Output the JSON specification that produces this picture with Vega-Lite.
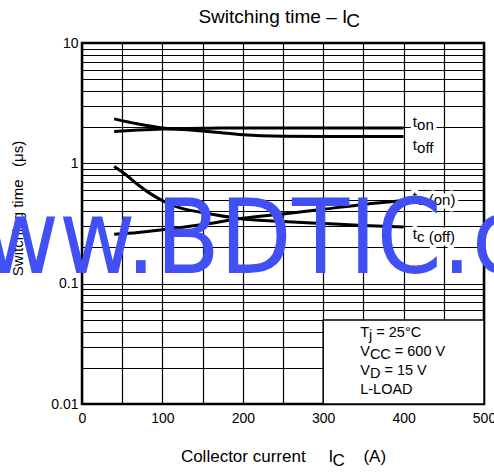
{
  "$schema": "https://vega.github.io/schema/vega-lite/v6.json",
  "width": 402,
  "height": 361,
  "autosize": {"type": "none"},
  "padding": {"left": 82, "top": 43, "right": 10, "bottom": 68},
  "config": {
    "view": {"stroke": "#000", "strokeWidth": 2.5},
    "font": "Liberation Sans",
    "text": {"font": "Liberation Sans", "color": "#000"},
    "axis": {"labelFont": "Liberation Sans", "labelColor": "#000", "titleFont": "Liberation Sans", "titleColor": "#000"}
  },
  "datasets": {
    "curves": [
      {"series": "ton", "ic": 40, "t": 1.84},
      {"series": "ton", "ic": 70, "t": 1.89},
      {"series": "ton", "ic": 100, "t": 1.93},
      {"series": "ton", "ic": 130, "t": 1.95},
      {"series": "ton", "ic": 160, "t": 1.96},
      {"series": "ton", "ic": 200, "t": 1.97},
      {"series": "ton", "ic": 250, "t": 1.97},
      {"series": "ton", "ic": 300, "t": 1.97},
      {"series": "ton", "ic": 350, "t": 1.97},
      {"series": "ton", "ic": 400, "t": 1.97},
      {"series": "toff", "ic": 40, "t": 2.34},
      {"series": "toff", "ic": 70, "t": 2.12},
      {"series": "toff", "ic": 100, "t": 1.97},
      {"series": "toff", "ic": 130, "t": 1.9},
      {"series": "toff", "ic": 160, "t": 1.83},
      {"series": "toff", "ic": 200, "t": 1.73},
      {"series": "toff", "ic": 250, "t": 1.68},
      {"series": "toff", "ic": 300, "t": 1.67},
      {"series": "toff", "ic": 350, "t": 1.67},
      {"series": "toff", "ic": 400, "t": 1.67},
      {"series": "tc_on", "ic": 40, "t": 0.257},
      {"series": "tc_on", "ic": 70, "t": 0.266},
      {"series": "tc_on", "ic": 100, "t": 0.28},
      {"series": "tc_on", "ic": 150, "t": 0.31},
      {"series": "tc_on", "ic": 200, "t": 0.35},
      {"series": "tc_on", "ic": 250, "t": 0.38},
      {"series": "tc_on", "ic": 300, "t": 0.415},
      {"series": "tc_on", "ic": 350, "t": 0.455},
      {"series": "tc_on", "ic": 400, "t": 0.49},
      {"series": "tc_off", "ic": 40, "t": 0.94},
      {"series": "tc_off", "ic": 55, "t": 0.8},
      {"series": "tc_off", "ic": 70, "t": 0.66},
      {"series": "tc_off", "ic": 85, "t": 0.56},
      {"series": "tc_off", "ic": 100, "t": 0.49},
      {"series": "tc_off", "ic": 120, "t": 0.43},
      {"series": "tc_off", "ic": 150, "t": 0.39},
      {"series": "tc_off", "ic": 200, "t": 0.345},
      {"series": "tc_off", "ic": 250, "t": 0.328},
      {"series": "tc_off", "ic": 300, "t": 0.316},
      {"series": "tc_off", "ic": 350, "t": 0.305},
      {"series": "tc_off", "ic": 400, "t": 0.296}
    ],
    "labels": [
      {"main": "t", "rest": "on", "ic": 411.5, "t": 1.91},
      {"main": "t", "rest": "off", "ic": 411.5, "t": 1.223},
      {"main": "t", "rest": "c (on)", "ic": 411.5, "t": 0.45},
      {"main": "t", "rest": "c (off)", "ic": 411.5, "t": 0.2226}
    ]
  },
  "layer": [
    {
      "data": {"name": "curves"},
      "mark": {"type": "line", "interpolate": "monotone", "strokeWidth": 3, "color": "#000", "clip": true, "opacity": 0},
      "encoding": {
        "x": {"field": "ic", "type": "quantitative",
          "scale": {"domain": [0, 500], "nice": false, "zero": false},
          "axis": {"title": null, "values": [0, 50, 100, 150, 200, 250, 300, 350, 400, 450, 500],
            "labelExpr": "datum.value % 100 === 0 ? format(datum.value, 'd') : ''",
            "grid": true, "gridColor": "#000", "gridWidth": 1.2, "gridOpacity": 1,
            "ticks": false, "domain": false, "labelFontSize": 14, "labelPadding": 7,
            "labelFlush": false, "labelOverlap": false, "labelBound": false}},
        "y": {"field": "t", "type": "quantitative",
          "scale": {"type": "log", "domain": [0.01, 10], "nice": false},
          "axis": {"title": "Switching time\u00a0\u00a0\u00a0(μs)",
            "values": [0.01, 0.02, 0.03, 0.04, 0.05, 0.06, 0.07, 0.08, 0.09, 0.1, 0.2, 0.3, 0.4, 0.5, 0.6, 0.7, 0.8, 0.9, 1, 2, 3, 4, 5, 6, 7, 8, 9, 10],
            "labelExpr": "indexof([0.01, 0.1, 1, 10], datum.value) >= 0 ? format(datum.value, '~g') : ''",
            "grid": true, "gridColor": "#000", "gridWidth": 1.2, "gridOpacity": 1,
            "ticks": false, "domain": false, "labelFontSize": 14, "labelPadding": 4,
            "labelOverlap": false, "labelBound": false, "labelFlush": false,
            "titleFontSize": 15, "titleFontWeight": "normal", "titleX": -65, "titleY": 165,
            "titleAlign": "center", "titleBaseline": "middle", "titleAngle": -90}},
        "detail": {"field": "series"}
      }
    },
    {
      "data": {"values": [{}]},
      "mark": {"type": "rect", "fill": "#fff", "stroke": "#000", "strokeWidth": 1.5},
      "encoding": {
        "x": {"datum": 300, "type": "quantitative"},
        "x2": {"datum": 500},
        "y": {"datum": 0.01, "type": "quantitative"},
        "y2": {"datum": 0.05}
      }
    },
    {
      "data": {"name": "labels"},
      "mark": {"type": "text", "align": "left", "baseline": "alphabetic", "fontSize": 15, "dy": -3, "fill": "#fff", "stroke": "#fff", "strokeWidth": 7, "strokeJoin": "round"},
      "encoding": {
        "x": {"field": "ic", "type": "quantitative"},
        "y": {"field": "t", "type": "quantitative"},
        "text": {"field": "main"}
      }
    },
    {
      "data": {"name": "labels"},
      "mark": {"type": "text", "align": "left", "baseline": "alphabetic", "fontSize": 15, "dx": 4.2, "fill": "#fff", "stroke": "#fff", "strokeWidth": 7, "strokeJoin": "round"},
      "encoding": {
        "x": {"field": "ic", "type": "quantitative"},
        "y": {"field": "t", "type": "quantitative"},
        "text": {"field": "rest"}
      }
    },
    {
      "data": {"name": "curves"},
      "mark": {"type": "line", "interpolate": "monotone", "strokeWidth": 3, "color": "#000", "clip": true},
      "encoding": {
        "x": {"field": "ic", "type": "quantitative"},
        "y": {"field": "t", "type": "quantitative"},
        "detail": {"field": "series"}
      }
    },
    {
      "data": {"name": "labels"},
      "mark": {"type": "text", "align": "left", "baseline": "alphabetic", "fontSize": 15, "dy": -3, "color": "#000"},
      "encoding": {
        "x": {"field": "ic", "type": "quantitative"},
        "y": {"field": "t", "type": "quantitative"},
        "text": {"field": "main"}
      }
    },
    {
      "data": {"name": "labels"},
      "mark": {"type": "text", "align": "left", "baseline": "alphabetic", "fontSize": 15, "dx": 4.2, "color": "#000"},
      "encoding": {
        "x": {"field": "ic", "type": "quantitative"},
        "y": {"field": "t", "type": "quantitative"},
        "text": {"field": "rest"}
      }
    },
    {
      "data": {"values": [{}]},
      "mark": {"type": "text", "text": "T", "align": "left", "baseline": "alphabetic", "fontSize": 14.5},
      "encoding": {"x": {"datum": 346, "type": "quantitative"}, "y": {"datum": 0.0359, "type": "quantitative"}}
    },
    {
      "data": {"values": [{}]},
      "mark": {"type": "text", "text": "j", "align": "left", "baseline": "alphabetic", "fontSize": 14.5, "dx": 8.9, "dy": 3},
      "encoding": {"x": {"datum": 346, "type": "quantitative"}, "y": {"datum": 0.0359, "type": "quantitative"}}
    },
    {
      "data": {"values": [{}]},
      "mark": {"type": "text", "text": "= 25°C", "align": "left", "baseline": "alphabetic", "fontSize": 14.5, "dx": 16.1},
      "encoding": {"x": {"datum": 346, "type": "quantitative"}, "y": {"datum": 0.0359, "type": "quantitative"}}
    },
    {
      "data": {"values": [{}]},
      "mark": {"type": "text", "text": "V", "align": "left", "baseline": "alphabetic", "fontSize": 14.5},
      "encoding": {"x": {"datum": 346, "type": "quantitative"}, "y": {"datum": 0.0249, "type": "quantitative"}}
    },
    {
      "data": {"values": [{}]},
      "mark": {"type": "text", "text": "CC", "align": "left", "baseline": "alphabetic", "fontSize": 14.5, "dx": 9.7, "dy": 3},
      "encoding": {"x": {"datum": 346, "type": "quantitative"}, "y": {"datum": 0.0249, "type": "quantitative"}}
    },
    {
      "data": {"values": [{}]},
      "mark": {"type": "text", "text": "= 600 V", "align": "left", "baseline": "alphabetic", "fontSize": 14.5, "dx": 34.6},
      "encoding": {"x": {"datum": 346, "type": "quantitative"}, "y": {"datum": 0.0249, "type": "quantitative"}}
    },
    {
      "data": {"values": [{}]},
      "mark": {"type": "text", "text": "V", "align": "left", "baseline": "alphabetic", "fontSize": 14.5},
      "encoding": {"x": {"datum": 346, "type": "quantitative"}, "y": {"datum": 0.0173, "type": "quantitative"}}
    },
    {
      "data": {"values": [{}]},
      "mark": {"type": "text", "text": "D", "align": "left", "baseline": "alphabetic", "fontSize": 14.5, "dx": 9.7, "dy": 3},
      "encoding": {"x": {"datum": 346, "type": "quantitative"}, "y": {"datum": 0.0173, "type": "quantitative"}}
    },
    {
      "data": {"values": [{}]},
      "mark": {"type": "text", "text": "= 15 V", "align": "left", "baseline": "alphabetic", "fontSize": 14.5, "dx": 24.2},
      "encoding": {"x": {"datum": 346, "type": "quantitative"}, "y": {"datum": 0.0173, "type": "quantitative"}}
    },
    {
      "data": {"values": [{}]},
      "mark": {"type": "text", "text": "L-LOAD", "align": "left", "baseline": "alphabetic", "fontSize": 14.5},
      "encoding": {"x": {"datum": 346, "type": "quantitative"}, "y": {"datum": 0.01209, "type": "quantitative"}}
    },
    {
      "data": {"values": [{}]},
      "mark": {"type": "text", "text": "Switching time – I", "align": "left", "baseline": "alphabetic", "fontSize": 19},
      "encoding": {"x": {"datum": 144.8, "type": "quantitative"}, "y": {"datum": 14.68, "type": "quantitative"}}
    },
    {
      "data": {"values": [{}]},
      "mark": {"type": "text", "text": "C", "align": "left", "baseline": "alphabetic", "fontSize": 19, "dy": 4.5},
      "encoding": {"x": {"datum": 328.8, "type": "quantitative"}, "y": {"datum": 14.68, "type": "quantitative"}}
    },
    {
      "data": {"values": [{}]},
      "mark": {"type": "text", "text": "Collector current", "align": "left", "baseline": "alphabetic", "fontSize": 17},
      "encoding": {"x": {"datum": 123, "type": "quantitative"}, "y": {"datum": 0.00327, "type": "quantitative"}}
    },
    {
      "data": {"values": [{}]},
      "mark": {"type": "text", "text": "I", "align": "left", "baseline": "alphabetic", "fontSize": 17},
      "encoding": {"x": {"datum": 306.5, "type": "quantitative"}, "y": {"datum": 0.00327, "type": "quantitative"}}
    },
    {
      "data": {"values": [{}]},
      "mark": {"type": "text", "text": "C", "align": "left", "baseline": "alphabetic", "fontSize": 17, "dy": 4},
      "encoding": {"x": {"datum": 311.5, "type": "quantitative"}, "y": {"datum": 0.00327, "type": "quantitative"}}
    },
    {
      "data": {"values": [{}]},
      "mark": {"type": "text", "text": "(A)", "align": "left", "baseline": "alphabetic", "fontSize": 17},
      "encoding": {"x": {"datum": 350, "type": "quantitative"}, "y": {"datum": 0.00327, "type": "quantitative"}}
    },
    {
      "data": {"values": [{}]},
      "mark": {"type": "text", "text": "www.BDTIC.com", "align": "left", "baseline": "alphabetic", "fontSize": 104, "font": "DejaVu Sans Condensed, Liberation Sans Narrow, DejaVu Sans", "color": "#4150f5"},
      "encoding": {"x": {"datum": -219, "type": "quantitative"}, "y": {"datum": 0.1227, "type": "quantitative"}}
    }
  ]
}
